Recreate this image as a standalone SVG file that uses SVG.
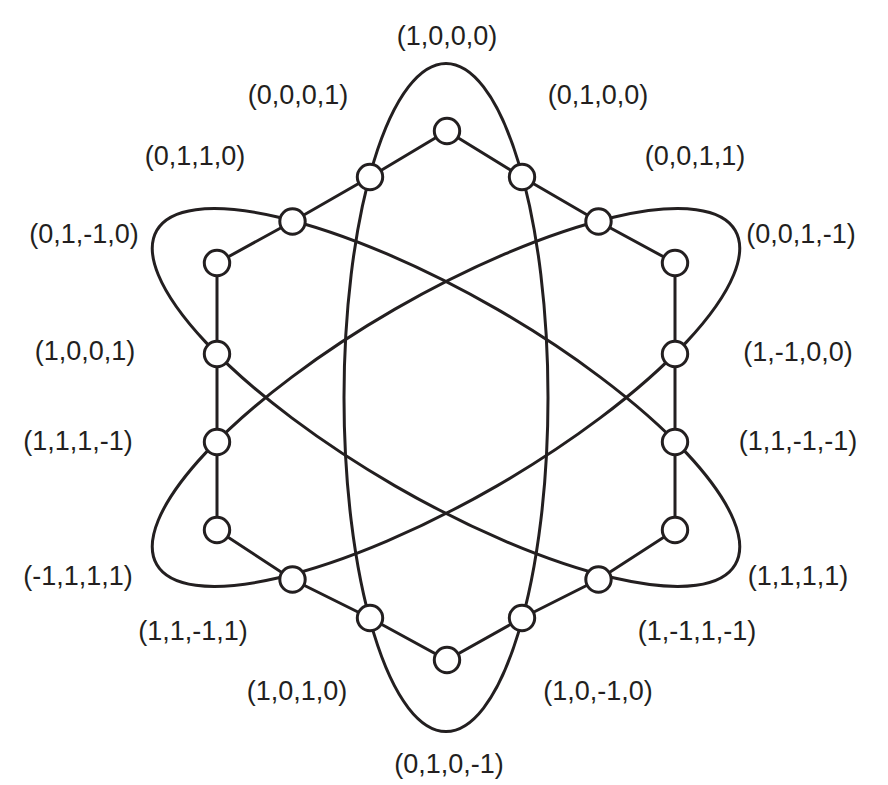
<svg xmlns="http://www.w3.org/2000/svg" width="888" height="785" viewBox="0 0 888 785">
<style>
.e{fill:none;stroke:#231f20;stroke-width:3}
.n circle{fill:#fff;stroke:#231f20;stroke-width:3}
text{font-family:"Liberation Sans",Arial,sans-serif;font-size:27px;fill:#231f20;text-anchor:middle}
</style>
<rect width="888" height="785" fill="#fff"/>
<g id="connectors">
<polygon class="e" points="447,131 522,177 598.5,221.5 675,263 675,354 675,442 675,530 598.5,579.5 522,618 447,660 370,618 292.5,579.5 217,530 217,442 217,354 217,263 292.5,221.5 370,177"/>
<ellipse class="e" cx="446" cy="397.5" rx="102" ry="334"/>
<ellipse class="e" cx="446" cy="397.5" rx="102" ry="334" transform="rotate(-60 446 397.5)"/>
<ellipse class="e" cx="446" cy="397.5" rx="102" ry="334" transform="rotate(60 446 397.5)"/>
</g>
<g id="n1" class="n"><circle cx="447" cy="131" r="12.7"/><text x="447" y="45">(1,0,0,0)</text></g>
<g id="n2" class="n"><circle cx="522" cy="177" r="12.7"/><text x="598" y="104">(0,1,0,0)</text></g>
<g id="n3" class="n"><circle cx="598.5" cy="221.5" r="12.7"/><text x="695" y="165">(0,0,1,1)</text></g>
<g id="n4" class="n"><circle cx="675" cy="263" r="12.7"/><text x="801" y="243">(0,0,1,-1)</text></g>
<g id="n5" class="n"><circle cx="675" cy="354" r="12.7"/><text x="798" y="361">(1,-1,0,0)</text></g>
<g id="n6" class="n"><circle cx="675" cy="442" r="12.7"/><text x="798" y="450">(1,1,-1,-1)</text></g>
<g id="n7" class="n"><circle cx="675" cy="530" r="12.7"/><text x="798" y="585">(1,1,1,1)</text></g>
<g id="n8" class="n"><circle cx="598.5" cy="579.5" r="12.7"/><text x="697" y="640">(1,-1,1,-1)</text></g>
<g id="n9" class="n"><circle cx="522" cy="618" r="12.7"/><text x="598" y="700">(1,0,-1,0)</text></g>
<g id="n10" class="n"><circle cx="447" cy="660" r="12.7"/><text x="449" y="773">(0,1,0,-1)</text></g>
<g id="n11" class="n"><circle cx="370" cy="618" r="12.7"/><text x="297" y="700">(1,0,1,0)</text></g>
<g id="n12" class="n"><circle cx="292.5" cy="579.5" r="12.7"/><text x="193" y="640">(1,1,-1,1)</text></g>
<g id="n13" class="n"><circle cx="217" cy="530" r="12.7"/><text x="78" y="585">(-1,1,1,1)</text></g>
<g id="n14" class="n"><circle cx="217" cy="442" r="12.7"/><text x="78" y="450">(1,1,1,-1)</text></g>
<g id="n15" class="n"><circle cx="217" cy="354" r="12.7"/><text x="85" y="360">(1,0,0,1)</text></g>
<g id="n16" class="n"><circle cx="217" cy="263" r="12.7"/><text x="84" y="243">(0,1,-1,0)</text></g>
<g id="n17" class="n"><circle cx="292.5" cy="221.5" r="12.7"/><text x="195" y="165">(0,1,1,0)</text></g>
<g id="n18" class="n"><circle cx="370" cy="177" r="12.7"/><text x="298" y="104">(0,0,0,1)</text></g>
</svg>
